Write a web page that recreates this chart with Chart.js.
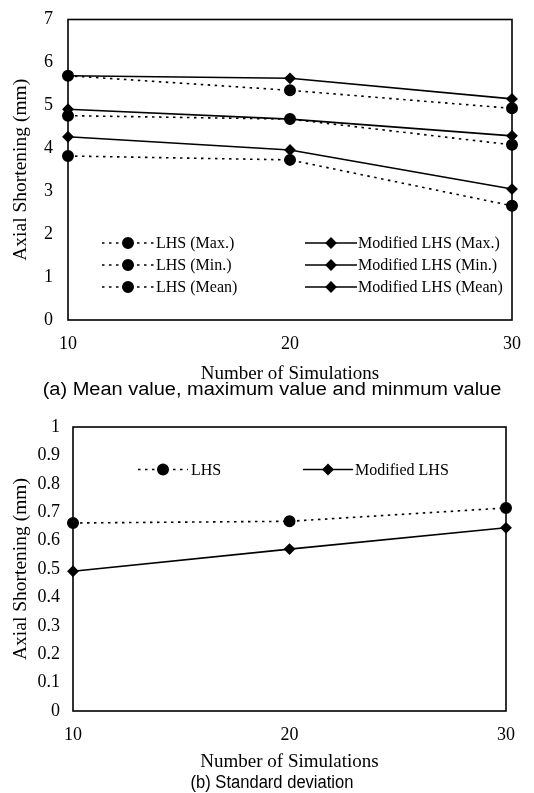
<!DOCTYPE html>
<html>
<head>
<meta charset="utf-8">
<script src="https://cdn.jsdelivr.net/npm/chart.js@4"></script>
<style>
  body { margin: 0; background: #fff; width: 534px; height: 793px; position: relative; overflow: hidden; }
  canvas { position: absolute; left: 0; }
  .cap { position: absolute; left: 0; width: 544px; text-align: center; font-family: "Liberation Sans", Arial, sans-serif; font-size: 18px; color: #000; line-height: 20px; }
</style>
</head>
<body>
<canvas id="grafA" width="534" height="386" style="top:0"></canvas>
<div class="cap" style="top:379px; transform: scaleX(1.11)">(a) Mean value, maximum value and minmum value</div>
<canvas id="grafB" width="534" height="372" style="top:400px"></canvas>
<div class="cap" style="top:772px; transform: scaleX(0.92)">(b) Standard deviation</div>
<script>
const simulaciones = [10, 20, 30]

// (a) mean, max, min
const lhsMax = [5.69, 5.35, 4.93]
const lhsMin = [3.82, 3.73, 2.66]
const lhsMean = [4.76, 4.68, 4.08]
const modMax = [5.69, 5.63, 5.15]
const modMin = [4.27, 3.96, 3.05]
const modMean = [4.91, 4.68, 4.29]

// (b) standard deviation
const lhsStd = [0.662, 0.668, 0.715]
const modStd = [0.492, 0.57, 0.645]

const serif = "'Liberation Serif', 'Times New Roman', serif"

const punteado = (label, data) => ({
    label, data,
    borderColor: '#000', backgroundColor: '#000',
    borderWidth: 1.6, borderDash: [2.5, 4.5],
    pointStyle: 'circle', pointRadius: 5.2, pointHoverRadius: 5.2,
    tension: 0, fill: false
})
const solido = (label, data) => ({
    label, data,
    borderColor: '#000', backgroundColor: '#000',
    borderWidth: 1.6,
    pointStyle: 'rectRot', pointRadius: 4.8, pointHoverRadius: 4.8,
    tension: 0, fill: false
})

// caja alrededor del area de datos
const marco = {
    id: 'marco',
    beforeDatasetsDraw(chart) {
        const { ctx, chartArea: a } = chart
        ctx.save()
        ctx.strokeStyle = '#000'
        ctx.lineWidth = 1.6
        ctx.strokeRect(a.left, a.top, a.right - a.left, a.bottom - a.top)
        ctx.restore()
    }
}

// leyenda dentro del grafico
const leyenda = {
    id: 'leyenda',
    afterDatasetsDraw(chart, args, opts) {
        const { ctx, chartArea: a } = chart
        ctx.save()
        ctx.font = '16px ' + serif
        ctx.fillStyle = '#000'
        ctx.textBaseline = 'middle'
        opts.items.forEach((it) => {
            const ds = chart.data.datasets[it.ds]
            const col = opts.cols[it.col]
            const y = a.top + opts.rows[it.row]
            ctx.strokeStyle = '#000'
            ctx.lineWidth = ds.borderWidth
            ctx.setLineDash(ds.borderDash || [])
            ctx.beginPath()
            ctx.moveTo(a.left + col.x0, y)
            ctx.lineTo(a.left + col.x1, y)
            ctx.stroke()
            ctx.setLineDash([])
            Chart.helpers.drawPoint(ctx, { pointStyle: ds.pointStyle, radius: ds.pointRadius, borderWidth: 1 }, a.left + (col.x0 + col.x1) / 2, y)
            ctx.fillText(ds.label, a.left + col.tx, y + 1)
        })
        ctx.restore()
    }
}

const opciones = (yMax, yStep, yWidth, xHeight, pad, tickLenY, leg) => ({
    responsive: false,
    animation: false,
    layout: { padding: pad },
    plugins: {
        legend: { display: false },
        tooltip: { enabled: false },
        leyenda: leg
    },
    scales: {
        x: {
            offset: false,
            grid: { display: false, drawTicks: true, tickLength: 11 },
            border: { display: false },
            ticks: { color: '#000', font: { family: serif, size: 18 }, padding: 2, maxRotation: 0 },
            title: { display: true, text: 'Number of Simulations', color: '#000', font: { family: serif, size: 19, lineHeight: 1.1 }, padding: 0 },
            afterFit: (s) => { s.height = xHeight }
        },
        y: {
            min: 0, max: yMax,
            grid: { display: false, drawTicks: true, tickLength: tickLenY },
            border: { display: false },
            ticks: {
                stepSize: yStep, color: '#000', font: { family: serif, size: 18 }, padding: 2,
                callback: (v) => String(Number(v.toFixed(1)))
            },
            title: { display: true, text: 'Axial Shortening (mm)', color: '#000', font: { family: serif, size: 19.5, lineHeight: 1.1 }, padding: { top: 10, bottom: 0 } },
            afterFit: (s) => { s.width = yWidth }
        }
    }
})

new Chart('grafA', {
    type: 'line',
    data: {
        labels: simulaciones,
        datasets: [
            punteado('LHS (Max.)', lhsMax),
            punteado('LHS (Min.)', lhsMin),
            punteado('LHS (Mean)', lhsMean),
            solido('Modified LHS (Max.)', modMax),
            solido('Modified LHS (Min.)', modMin),
            solido('Modified LHS (Mean)', modMean)
        ]
    },
    options: opciones(7, 1, 68, 64, { top: 19.5, right: 22, bottom: 2, left: 0 }, 13, {
        cols: [{ x0: 34, x1: 86, tx: 88 }, { x0: 237, x1: 289, tx: 290 }],
        rows: [223.5, 245.5, 267.5],
        items: [
            { ds: 0, col: 0, row: 0 }, { ds: 1, col: 0, row: 1 }, { ds: 2, col: 0, row: 2 },
            { ds: 3, col: 1, row: 0 }, { ds: 4, col: 1, row: 1 }, { ds: 5, col: 1, row: 2 }
        ]
    }),
    plugins: [marco, leyenda]
})

new Chart('grafB', {
    type: 'line',
    data: {
        labels: simulaciones,
        datasets: [
            punteado('LHS', lhsStd),
            solido('Modified LHS', modStd)
        ]
    },
    options: opciones(1, 0.1, 73, 61, { top: 27, right: 28, bottom: 0, left: 0 }, 11, {
        cols: [{ x0: 65, x1: 115, tx: 118 }, { x0: 230, x1: 280, tx: 282 }],
        rows: [42.5],
        items: [{ ds: 0, col: 0, row: 0 }, { ds: 1, col: 1, row: 0 }]
    }),
    plugins: [marco, leyenda]
})
</script>
</body>
</html>
